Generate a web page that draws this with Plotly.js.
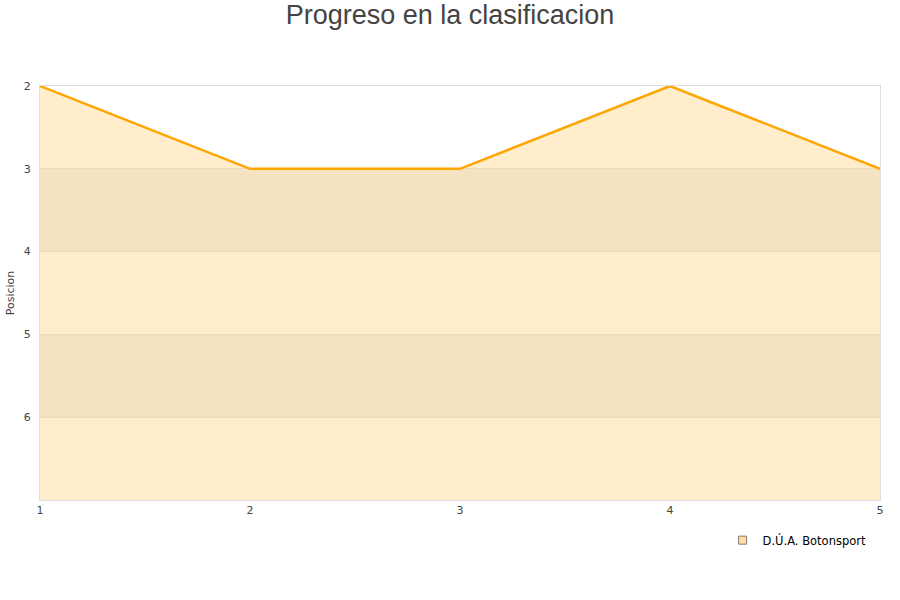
<!DOCTYPE html>
<html><head><meta charset="utf-8">
<script src="https://cdn.plot.ly/plotly-3.0.1.min.js"></script>
<style>body{margin:0;padding:0;background:#fff}#chart{width:900px;height:600px}</style>
</head><body><div id="chart"></div>
<script>
const jornadas = [1, 2, 3, 4, 5];
const posiciones = [2, 3, 3, 2, 3];
const teamName = "D.Ú.A. Botonsport";
const yTicks = [2, 3, 4, 5, 6];
const bandRanges = [[3, 4], [5, 6]];

const FONT = 'DejaVu Sans';

const shapes = bandRanges.map(r => ({
  type: 'rect', xref: 'paper', yref: 'y', x0: 0, x1: 1, y0: r[0], y1: r[1],
  fillcolor: '#f2f2f2', line: {width: 0}, layer: 'below'
}));

const base = {x: jornadas, y: jornadas.map(() => 7), mode: 'lines', line: {width: 0}, showlegend: false, hoverinfo: 'skip'};
const trace = {
  x: jornadas, y: posiciones, name: teamName,
  type: 'scatter', mode: 'lines',
  line: {color: '#ffa500', width: 2.5},
  fill: 'tonexty', fillcolor: 'rgba(255,165,0,0.2)',
  showlegend: false
};
const legendTrace = {
  x: [null], y: [null], name: teamName, type: 'scatter', mode: 'markers',
  marker: {symbol: 'square', size: 8, color: 'rgba(255,220,170,1)', line: {color: '#8a7a66', width: 1}}
};

const layout = {
  width: 900, height: 600,
  margin: {l: 40, r: 20, t: 86, b: 100},
  paper_bgcolor: '#fff', plot_bgcolor: '#fff',
  title: {text: 'Progreso en la clasificacion', x: 0.5, xanchor: 'center', yref: 'container', y: 0.975, yanchor: 'middle',
          font: {family: 'Liberation Sans', size: 27, color: '#444'}},
  font: {family: FONT, size: 11, color: '#444'},
  xaxis: {range: [1, 5], tickvals: jornadas, ticks: '', showgrid: false, zeroline: false,
          showline: true, linecolor: '#ddd', mirror: true,
          tickfont: {family: FONT, size: 11, color: '#444'}},
  yaxis: {range: [7, 2], tickvals: yTicks, ticks: '', showgrid: true, gridcolor: '#e8e8e8', zeroline: false,
          showline: true, linecolor: '#ddd', mirror: true, ticklabelstandoff: 6,
          title: {text: 'Posicion', font: {family: FONT, size: 11, color: '#444'}, standoff: 6},
          tickfont: {family: FONT, size: 11, color: '#444'}},
  shapes: shapes,
  showlegend: true,
  legend: {x: 0.99, xanchor: 'right', y: -0.062, yanchor: 'top', bgcolor: 'rgba(255,255,255,0)',
           font: {family: FONT, size: 11.5, color: '#000'}}
};
Plotly.newPlot('chart', [base, trace, legendTrace], layout, {displayModeBar: false, staticPlot: true});
</script></body></html>
